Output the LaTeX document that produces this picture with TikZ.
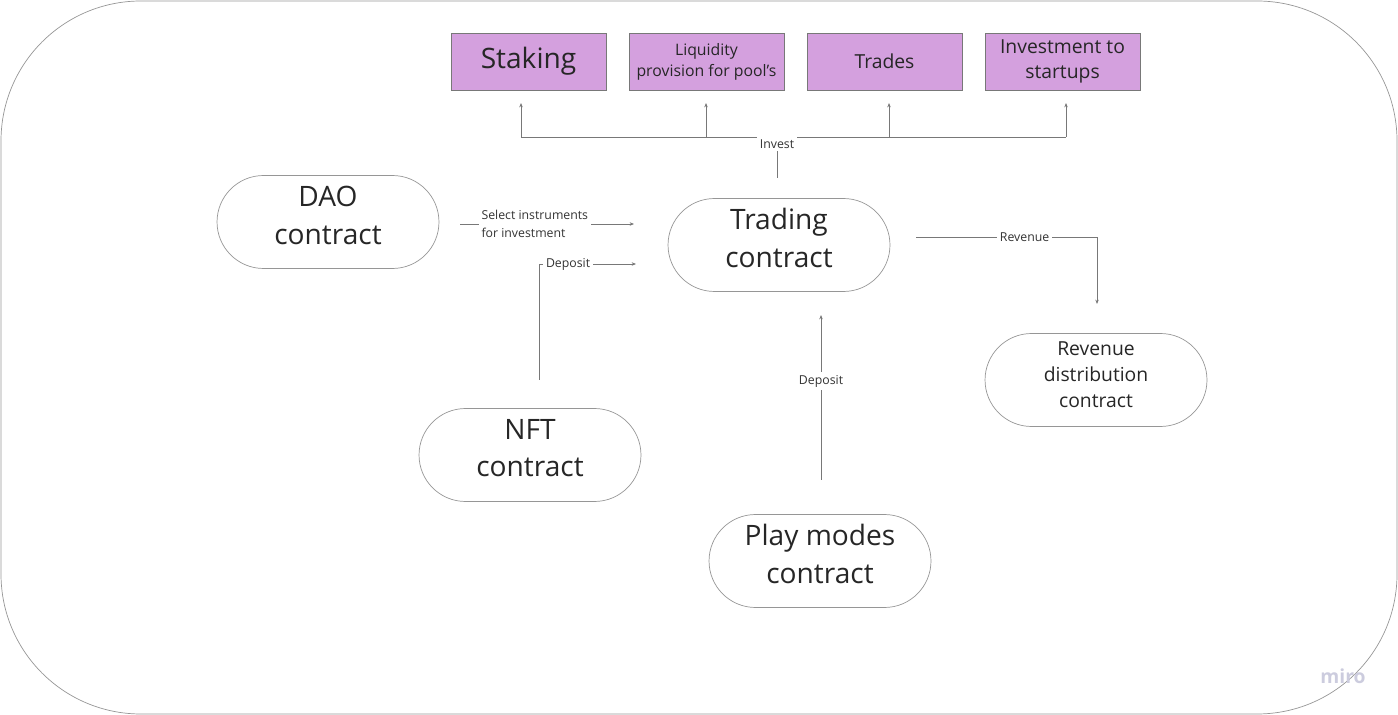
\documentclass[tikz,border=0pt]{standalone}
\usepackage{fontspec}
\setmainfont{Open Sans}
\usepackage{xcolor}
\usetikzlibrary{positioning,arrows.meta}
\definecolor{boxpurple}{RGB}{212,160,222}
\definecolor{lineg}{RGB}{120,120,120}
\definecolor{frameg}{RGB}{150,150,150}
\definecolor{mirog}{RGB}{204,204,222}
\tikzset{
    contract/.style={draw=frameg, rounded corners=0.93cm, minimum width=4.44cm, minimum height=1.86cm,
        align=center, text depth=8pt, text=black!85, font=\fontsize{16}{21.5}\selectfont},
    instrument/.style={draw=lineg, fill=boxpurple, minimum width=3.1cm, minimum height=1.14cm,
        align=center, text=black!85},
    link/.style={draw=lineg, line width=0.5pt},
    arr/.style={link, -{Stealth[length=2.5pt,width=2pt]}},
    lbl/.style={fill=white, inner sep=1.5pt, align=left, text=black!80, font=\fontsize{7}{10}\selectfont}
}

\begin{document}
\begin{tikzpicture}[x=0.02cm, y=-0.02cm]
    \useasboundingbox (0,0) rectangle (1398,715);
    \draw [frameg, rounded corners=2.8cm] (1,1) rectangle (1397,714);

    % investment instruments
    \node [instrument, font=\fontsize{16}{20}\selectfont] (staking) at (528.5,61.5) {Staking};
    \node [instrument, font=\fontsize{9}{12}\selectfont] (liquidity) at (706.5,61.5) {Liquidity\\provision for pool\symbol{39}s};
    \node [instrument, font=\fontsize{11}{14.7}\selectfont] (trades) at (884.5,61.5) {Trades};
    \node [instrument, font=\fontsize{11}{14.7}\selectfont] (startups) at (1062.5,61.5) {Investment to\\startups};

    % contracts
    \node [contract] (dao) at (328,222) {DAO\\contract};
    \node [contract] (trading) at (779,245) {Trading\\contract};
    \node [contract] (nft) at (530,455) {NFT\\contract};
    \node [contract] (play) at (820,561) {Play modes\\contract};
    \node [contract, text depth=6pt, font=\fontsize{11}{15}\selectfont] (revenue) at (1096,380) {Revenue\\distribution\\contract};

    % free ends of the connectors
    \coordinate (invBase) at (777,178);
    \coordinate (invJoin) at (777,137);
    \coordinate (tipStaking) at (521,103);
    \coordinate (tipLiquidity) at (706,103);
    \coordinate (tipTrades) at (889,103);
    \coordinate (tipStartups) at (1066,103);
    \coordinate (selFrom) at (460,224);
    \coordinate (selTo) at (634,224);
    \coordinate (nftFrom) at (539,380);
    \coordinate (nftTo) at (636,264);
    \coordinate (playFrom) at (821,480);
    \coordinate (playTo) at (821,315);
    \coordinate (revFrom) at (916,237);
    \coordinate (revTo) at (1097,304);

    % invest
    \draw [link] (tipStaking |- invJoin) -- (tipStartups |- invJoin);
    \foreach \t in {tipStaking, tipLiquidity, tipTrades, tipStartups}
        \draw [arr] (\t |- invJoin) -- (\t);
    \draw [link] (invBase) -- (invJoin);
    \node [lbl] (investLbl) at (777,144) {Invest};

    % other connectors
    \draw [arr] (selFrom) -- (selTo) node [lbl, pos=0.43] (selLbl) {Select instruments\\for investment};
    \draw [arr] (nftFrom) |- (nftTo) node [lbl, pos=0.65] (nftLbl) {Deposit};
    \draw [arr] (playFrom) -- (playTo) node [lbl, pos=0.6] (playLbl) {Deposit};
    \draw [arr] (revFrom) -| (revTo) node [lbl, pos=0.3] (revLbl) {Revenue};

    \node [text=mirog, font=\bfseries\fontsize{11}{13}\selectfont] (miro) at (1343,676) {miro};
\end{tikzpicture}
\end{document}
